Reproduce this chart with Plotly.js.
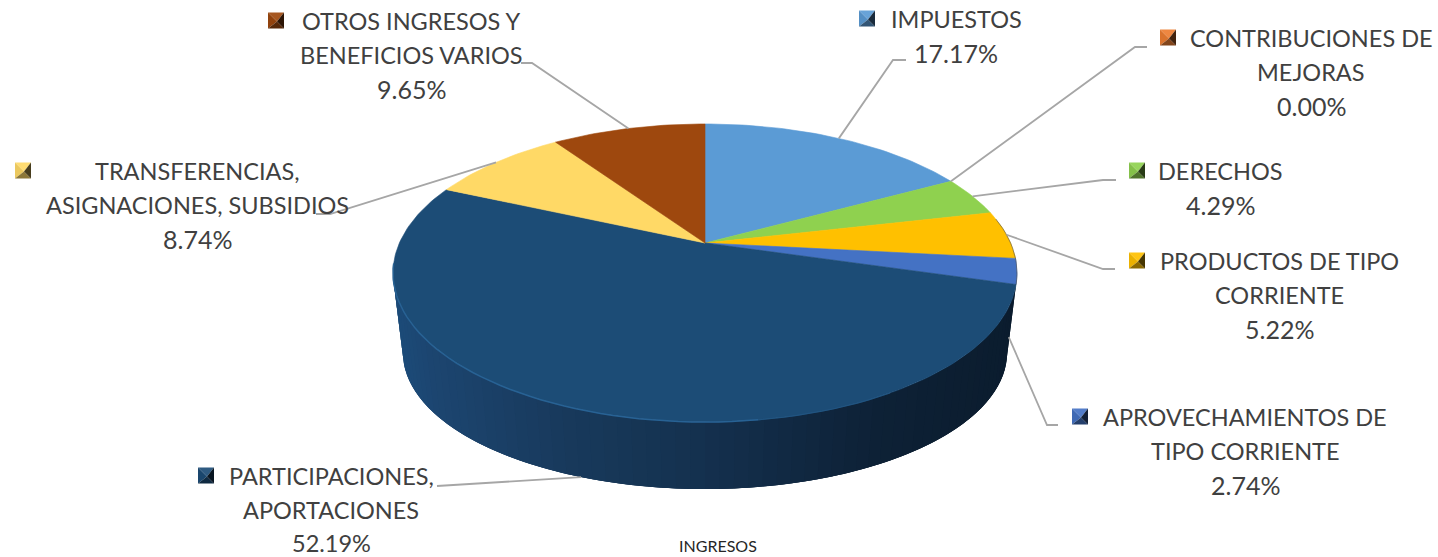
<!DOCTYPE html>
<html>
<head>
<meta charset="utf-8">
<script src="https://cdn.plot.ly/plotly-3.0.1.min.js"></script>
<style>html,body{margin:0;padding:0;background:#fff;overflow:hidden}#chart{width:1438px;height:557px}</style>
</head>
<body>
<div id="chart"></div>
<script>
// ---- data ----
var categories = ['IMPUESTOS','CONTRIBUCIONES DE MEJORAS','DERECHOS','PRODUCTOS DE TIPO CORRIENTE','APROVECHAMIENTOS DE TIPO CORRIENTE','PARTICIPACIONES, APORTACIONES','TRANSFERENCIAS, ASIGNACIONES, SUBSIDIOS','OTROS INGRESOS Y BENEFICIOS VARIOS'];
var shares = [17.17,0.00,4.29,5.22,2.74,52.19,8.74,9.65];
var categoryLines = [['IMPUESTOS'],['CONTRIBUCIONES DE','MEJORAS'],['DERECHOS'],['PRODUCTOS DE TIPO','CORRIENTE'],['APROVECHAMIENTOS DE','TIPO CORRIENTE'],['PARTICIPACIONES,','APORTACIONES'],['TRANSFERENCIAS,','ASIGNACIONES, SUBSIDIOS'],['OTROS INGRESOS Y','BENEFICIOS VARIOS']];
var chartLabel = 'INGRESOS';

// ---- styles ----
var colors = ['#5B9BD5','#ED7D31','#8FD14F','#FFC000','#4472C4','#1C4C76','#FFD966','#9E480E'];
var wallStops = [[395,'#1c4b78'],[430,'#1c4570'],[560,'#183a5c'],[705,'#14304e'],[880,'#0d2136'],[1017,'#0b1c2e']];
var textColor = '#404040', leaderColor = '#A6A6A6';
var FONT = 'Lato, sans-serif', LABEL_SIZE = 23.5, PCT_SIZE = 25, LINE_GAP = 34.3;

// ---- layout of the labels (pixel space of the axes) ----
var labelCenterX = [956,1311,1220,1279,1245,331,197,411];
var labelTopY    = [18.5,37.5,170.5,260.5,416.5,475.5,170.5,20.5];
var keyLeftX     = [859,1160,1129,1129,1072,198,15,268];
var leaderMid    = [[893,60],[1135,47],[1103,180],[1103,269],[1047,425],[445,486],[330,214],[532,63]];
var leaderEnd    = [[906,60],[1147,47],[1116,180],[1115,269],[1058,425],[437,486],[316,214],[521,63]];
var leaderDepth  = [0,0,0,0,0.82,1,0,0];
var KEY = 16;
var BOTTOM_LIMIT = 543; // lowest centre a label line may take and still fit inside the picture

// ---- projected pie: circle seen in perspective ----
var CX = 705, CY = 243, A = 305.6, B = 143, K = 0.2013;
function rim(theta){ var u=Math.sin(theta), v=Math.cos(theta), w=1+K*v; return [CX+A*u/w, CY-B*v/w]; }
function bottom(p){ return [CX+(p[0]-CX)*0.968, 353+(p[1]-273)*0.913]; }
function toTheta(pct){ return pct/100*2*Math.PI; }

function hex2rgb(h){ return [1,3,5].map(function(i){return parseInt(h.substr(i,2),16);}); }
function rgb(c){ return 'rgb('+c.map(function(v){return Math.max(0,Math.min(255,Math.round(v)));}).join(',')+')'; }
function wallColor(x){
  for(var i=0;i<wallStops.length-1;i++){
    var a=wallStops[i], b=wallStops[i+1];
    if(x<=b[0]){ var t=Math.max(0,(x-a[0])/(b[0]-a[0])), ca=hex2rgb(a[1]), cb=hex2rgb(b[1]);
      return rgb(ca.map(function(v,j){return v+(cb[j]-v)*t;})); }
  }
  return wallStops[wallStops.length-1][1];
}
function shade(hex,f){
  return rgb(hex2rgb(hex).map(function(v){ return f>1 ? v+(255-v)*(f-1) : v*f; }));
}

var traces = [];
// wall strips along the visible front of the rim; each one overlaps the next so no seam shows
var wallFrom = Math.acos(-K), wallTo = 2*Math.PI-wallFrom, STRIPS = 70;
for(var s=0;s<STRIPS;s++){
  var step=(wallTo-wallFrom)/STRIPS;
  var t0=wallFrom+step*s, t1=Math.min(wallTo,t0+step*3);
  var pts=[], n=6, lower=[];
  for(var j=0;j<=n;j++){ var p=rim(t0+(t1-t0)*j/n); pts.push(p); lower.unshift(bottom(p)); }
  var poly=pts.concat(lower); poly.push(pts[0]);
  var mid=rim(t0+step/2);
  var col=wallColor(mid[0]);
  traces.push({type:'scatter',mode:'lines',x:poly.map(function(q){return q[0];}),y:poly.map(function(q){return q[1];}),fill:'toself',fillcolor:col,line:{color:col,width:0},hoverinfo:'skip',showlegend:false});
}
// top face slices
var cum=0, mids=[];
shares.forEach(function(v,i){
  var a=toTheta(cum), b=toTheta(cum+v), m=(a+b)/2; mids.push(m);
  var xs=[CX], ys=[CY], n=Math.max(2,Math.ceil(v*3));
  for(var j=0;j<=n;j++){ var p=rim(a+(b-a)*j/n); xs.push(p[0]); ys.push(p[1]); }
  xs.push(CX); ys.push(CY);
  traces.push({type:'scatter',mode:'lines',name:categories[i],x:xs,y:ys,fill:'toself',fillcolor:colors[i],
    line:{color:colors[i],width:v>0?0.6:0},hoverinfo:'name',showlegend:false});
  cum+=v;
});
// soft rim highlights on the large slice
function rimLine(d0,d1,color,width){
  var xs=[],ys=[];
  for(var d=d0;d<=d1;d+=2){ var p=rim(d*Math.PI/180); xs.push(p[0]); ys.push(p[1]); }
  traces.push({type:'scatter',mode:'lines',x:xs,y:ys,line:{color:color,width:width},hoverinfo:'skip',showlegend:false});
}
rimLine(172,262,'#286294',1.5);
rimLine(150,172,'#215480',1.2);
rimLine(80,106,'rgba(70,70,70,0.55)',1);
// leader lines
shares.forEach(function(v,i){
  var p=rim(mids[i]);
  if(leaderDepth[i]>0){ var q=bottom(p); p=[p[0]+(q[0]-p[0])*leaderDepth[i], p[1]+(q[1]-p[1])*leaderDepth[i]]; }
  traces.push({type:'scatter',mode:'lines',x:[p[0],leaderMid[i][0],leaderEnd[i][0]],y:[p[1],leaderMid[i][1],leaderEnd[i][1]],
    line:{color:leaderColor,width:1.8},hoverinfo:'skip',showlegend:false});
});

// labels and bevelled keys
var annotations=[], shapes=[];
categoryLines.forEach(function(lines,i){
  var all=lines.concat([shares[i].toFixed(2)+'%']);
  all.forEach(function(txt,k){
    var y=labelTopY[i]+k*LINE_GAP, low=y>BOTTOM_LIMIT;
    var isPct=k===all.length-1;
    annotations.push({x:labelCenterX[i],y:low?BOTTOM_LIMIT:y,xref:'x',yref:'y',text:txt,showarrow:false,
      xanchor:'center',yanchor:'middle',font:{family:FONT,size:(isPct&&!low)?PCT_SIZE:LABEL_SIZE,color:textColor}});
  });
  var l=keyLeftX[i], r=l+KEY, cy=labelTopY[i], t=cy-KEY/2, b=cy+KEY/2, mx=l+KEY/2+1, my=cy+1;
  [[[l,t],[r,t],'1.08'],[[l,t],[l,b],'0.92'],[[l,b],[r,b],'0.55'],[[r,t],[r,b],'0.28']].forEach(function(f){
    shapes.push({type:'path',xref:'x',yref:'y',path:'M'+f[0][0]+','+f[0][1]+' L'+f[1][0]+','+f[1][1]+' L'+mx+','+my+' Z',
      fillcolor:shade(colors[i],parseFloat(f[2])),line:{width:0},layer:'above'});
  });
});
annotations.push({x:718,y:545,xref:'x',yref:'y',text:chartLabel,showarrow:false,xanchor:'center',yanchor:'middle',font:{family:FONT,size:16,color:'#262626'}});

var layout={width:1438,height:557,margin:{l:0,r:0,t:0,b:0},paper_bgcolor:'#fff',plot_bgcolor:'#fff',showlegend:false,
  xaxis:{range:[0,1438],visible:false,fixedrange:true},
  yaxis:{range:[557,0],visible:false,fixedrange:true},
  annotations:annotations,shapes:shapes};
Plotly.newPlot('chart',traces,layout,{displayModeBar:false,responsive:false});
</script>
</body>
</html>
